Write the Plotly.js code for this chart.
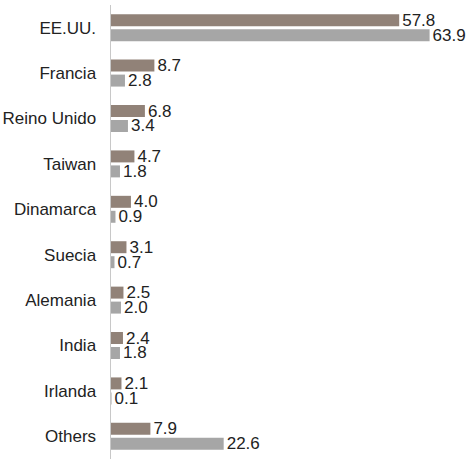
<!DOCTYPE html>
<html><head><meta charset="utf-8">
<script src="https://cdn.plot.ly/plotly-3.0.1.min.js"></script>
<style>html,body{margin:0;padding:0;background:#fff}#c{width:467px;height:459px}</style>
</head><body><div id="c"></div>
<script>
const categories = ["EE.UU.","Francia","Reino Unido","Taiwan","Dinamarca","Suecia","Alemania","India","Irlanda","Others"];
const series1 = [57.8,8.7,6.8,4.7,4.0,3.1,2.5,2.4,2.1,7.9];
const series2 = [63.9,2.8,3.4,1.8,0.9,0.7,2.0,1.8,0.1,22.6];
const fontFam = "'Liberation Sans Narrow','Arial Narrow',sans-serif";
function tr(vals, color){
  return {type:'bar', orientation:'h', y:categories, x:vals,
    marker:{color:color, line:{width:0}},
    text: vals.map(v=>v.toFixed(1)), textposition:'outside', cliponaxis:false,
    constraintext:'none', textfont:{family:fontFam, size:17, color:'#222'},
    hoverinfo:'none'};
}
Plotly.newPlot('c',[tr(series1,'#918278'), tr(series2,'#a6a6a6')],{
  width:467, height:459, barmode:'group', bargap:0.34, bargroupgap:0.2,
  margin:{l:111,r:2,t:5,b:0}, showlegend:false,
  paper_bgcolor:'#fff', plot_bgcolor:'#fff',
  xaxis:{range:[0,71], visible:false, fixedrange:true},
  yaxis:{autorange:'reversed', showline:true, linecolor:'#c8c8c8', linewidth:1.5,
    ticks:'', showgrid:false, ticklabelstandoff:10,
    tickfont:{family:fontFam, size:17, color:'#222'}}
},{staticPlot:true});
</script></body></html>
